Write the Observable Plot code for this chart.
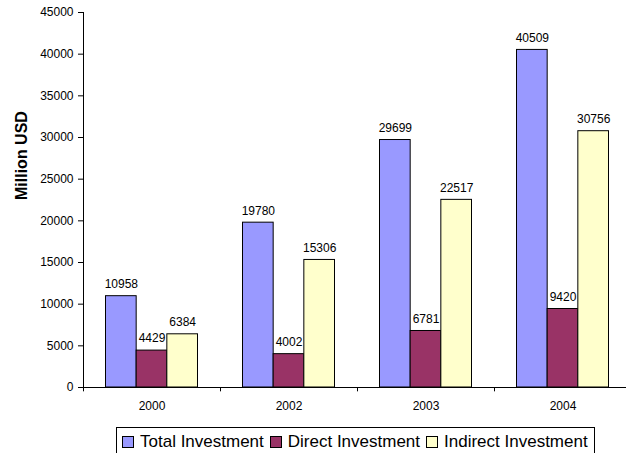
<!DOCTYPE html>
<html>
<head>
<meta charset="utf-8">
<script src="https://cdn.jsdelivr.net/npm/d3@7"></script>
<script src="https://cdn.jsdelivr.net/npm/@observablehq/plot@0.6"></script>
<style>
  html, body { margin: 0; padding: 0; background: #fff; }
  body { width: 626px; height: 453px; overflow: hidden; font-family: "Liberation Sans", Arial, sans-serif; }
  #chart svg { display: block; }
  #legend {
    position: absolute; left: 116px; top: 427px;
    border: 1px solid #000; height: 30px; box-sizing: border-box;
    display: flex; align-items: center; padding: 0 6px 1px 5px;
    font-size: 17px; color: #000; white-space: nowrap;
  }
  #legend .item { display: flex; align-items: center; margin-right: 6px; }
  #legend .item:last-child { margin-right: 0; }
  #legend .sw { width: 10px; height: 10px; border: 1px solid #000; margin-right: 6px; }
</style>
</head>
<body>
<div id="chart"></div>
<div id="legend"></div>
<script>
const years = ["2000", "2002", "2003", "2004"];
const total = [10958, 19780, 29699, 40509];
const direct = [4429, 4002, 6781, 9420];
const indirect = [6384, 15306, 22517, 30756];
const seriesNames = ["Total Investment", "Direct Investment", "Indirect Investment"];
const seriesColors = ["#9999FF", "#993366", "#FFFFCC"];
const yTicks = [0, 5000, 10000, 15000, 20000, 25000, 30000, 35000, 40000, 45000];

const rows = (vals) => years.map((y, i) => ({year: y, value: vals[i]}));
const dTotal = rows(total), dDirect = rows(direct), dIndirect = rows(indirect);

const band = (631 - 83) / years.length;   // 137
const bw = 92 / 3;                         // bar width
const half = band / 2;

function barMark(data, color, k) {
  const left = half - bw * 1.5 + (k + 1) * bw;
  const right = band - left - bw;
  return Plot.barY(data, {x: "year", y: "value", fill: color, stroke: "#000", strokeWidth: 1,
    insetLeft: left, insetRight: right});
}
function labelMark(data, k) {
  return Plot.text(data, {x: "year", y: "value", text: d => String(d.value), dx: k * bw, dy: -12,
    fontSize: 12, fill: "#000"});
}

const chart = Plot.plot({
  width: 626,
  height: 420,
  marginLeft: 83,
  marginTop: 12,
  marginBottom: 33,
  marginRight: 0,
  style: {fontFamily: "'Liberation Sans', Arial, sans-serif", fontSize: "12px", color: "#000", background: "#fff"},
  x: {type: "band", domain: years, range: [83, 631], padding: 0, label: null},
  y: {domain: [0, 45000], label: null},
  marks: [
    Plot.axisY({ticks: yTicks, tickSize: 5, tickPadding: 5, tickFormat: d => String(d), fontSize: 12, label: null}),
    Plot.text(["Million USD"], {frameAnchor: "left", dx: -62, rotate: -90, fontSize: 16, fontWeight: "bold", text: d => d, fill: "#000"}),
    Plot.axisX({tickSize: 0, tickPadding: 14, fontSize: 12, label: null}),
    barMark(dTotal, seriesColors[0], -1),
    barMark(dDirect, seriesColors[1], 0),
    barMark(dIndirect, seriesColors[2], 1),
    labelMark(dTotal, -1),
    labelMark(dDirect, 0),
    labelMark(dIndirect, 1),
    Plot.ruleX(years, {x: d => d, dx: -half, y1: 0, y2: -520, stroke: "#000"}),
    Plot.ruleY([0], {stroke: "#000"}),
    Plot.frame({anchor: "left", stroke: "#000"})
  ]
});
document.getElementById("chart").appendChild(chart);

const legend = document.getElementById("legend");
seriesNames.forEach((n, i) => {
  const it = document.createElement("div");
  it.className = "item";
  const sw = document.createElement("div");
  sw.className = "sw";
  sw.style.background = seriesColors[i];
  const t = document.createElement("span");
  t.textContent = n;
  it.appendChild(sw); it.appendChild(t);
  legend.appendChild(it);
});
</script>
</body>
</html>
